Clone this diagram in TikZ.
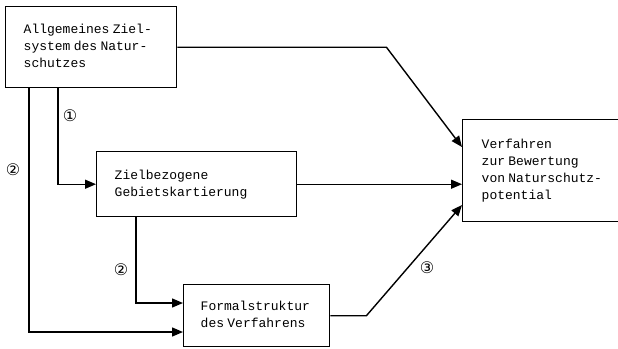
\documentclass[tikz,border=0pt]{standalone}
\usepackage{fontspec}
\newfontfamily\boxfont{Liberation Mono}
\newfontfamily\symfont{DejaVu Sans}
\usetikzlibrary{arrows.meta,calc}
% typewriter text used inside the boxes
\newcommand{\boxtext}[1]{\boxfont\fontsize{13bp}{17bp}\selectfont
  \begin{tabular}{@{}l@{}}#1\end{tabular}}

\begin{document}
\begin{tikzpicture}[x=1bp,y=-1bp,
  box/.style={draw,line width=1.4bp,anchor=north west,inner xsep=18bp,inner ysep=0bp},
  link/.style={line width=1.4bp},
  arr/.style={link,-{Triangle[length=11bp,width=9bp]}},
  tag/.style={font=\symfont\fontsize{16bp}{16bp}\selectfont,inner sep=0bp}]
\useasboundingbox (0,0) rectangle (618,348);

% boxes
\node[box,text width=135bp,minimum height=81bp] (A) at (5,6)
  {\boxtext{Allgemeines Ziel-\\system des Natur-\\schutzes}};
\node[box,text width=164bp,minimum height=65bp] (B) at (96,151)
  {\boxtext{Zielbezogene\\Gebietskartierung}};
\node[box,inner xsep=17bp,text width=112bp,minimum height=62bp] (C) at (183,284)
  {\boxtext{Formalstruktur\\des Verfahrens}};
\node[box,inner xsep=19bp,text width=130bp,minimum height=102bp] (D) at (462,119)
  {\boxtext{Verfahren\\zur Bewertung\\von Naturschutz-\\potential}};

% connectors into the evaluation box
\draw[arr] (A.east) -- ++(209,0) -- (D.west |- 0,147);
\draw[arr] (B.east) -- (D.west |- B.east);
\draw[arr] (C.east) -- ++(36,0) -- (D.west |- 0,205);

% connectors down the left side
\draw[arr] ($(A.south west)+(24,0)$) |- (C.west |- 0,332);
\draw[arr] ($(A.south west)+(53,0)$) |- (B.west);
\draw[arr] ($(B.south west)+(40,0)$) |- (C.west |- 0,303);

% step numbers
\node[tag] (t1) at (70,116) {①};
\node[tag] (t2) at (13,170) {②};
\node[tag] (t3) at (121,270) {②};
\node[tag] (t4) at (427,268) {③};
\end{tikzpicture}
\end{document}
